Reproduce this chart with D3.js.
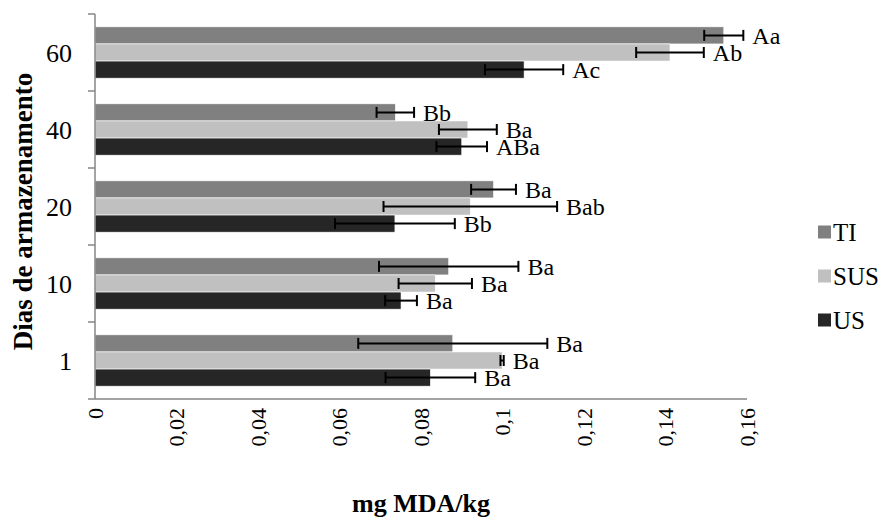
<!DOCTYPE html>
<html>
<head>
<meta charset="utf-8">
<script src="https://cdn.jsdelivr.net/npm/d3@7"></script>
<style>
  body { margin: 0; background: #fff; }
</style>
</head>
<body>
<div id="chart"></div>
<script>
// days of storage, top to bottom
const days = ["60", "40", "20", "10", "1"];
const series = ["TI", "SUS", "US"];
const colors = { TI: "#808080", SUS: "#c0c0c0", US: "#262626" };

// mg MDA/kg, same order as days
const tiValues  = [0.1543, 0.0737, 0.0978, 0.0868, 0.0878];
const susValues = [0.1411, 0.0915, 0.0921, 0.0835, 0.0999];
const usValues  = [0.1053, 0.0900, 0.0736, 0.0751, 0.0823];

const tiErr  = [0.0048, 0.0046, 0.0055, 0.0171, 0.0232];
const susErr = [0.0083, 0.0071, 0.0213, 0.0090, 0.0004];
const usErr  = [0.0096, 0.0062, 0.0147, 0.0039, 0.0110];

const tiLabels  = ["Aa", "Bb", "Ba", "Ba", "Ba"];
const susLabels = ["Ab", "Ba", "Bab", "Ba", "Ba"];
const usLabels  = ["Ac", "ABa", "Bb", "Ba", "Ba"];

const xTicks = [0, 0.02, 0.04, 0.06, 0.08, 0.1, 0.12, 0.14, 0.16];

const seriesData = {
    TI: { values: tiValues, err: tiErr, labels: tiLabels },
    SUS: { values: susValues, err: susErr, labels: susLabels },
    US: { values: usValues, err: usErr, labels: usLabels }
};

const FONT = "Liberation Serif";

const width = 886, height = 523;
const margin = { top: 14, right: 139, bottom: 124, left: 95 };
const innerW = width - margin.left - margin.right;
const innerH = height - margin.top - margin.bottom;

const svg = d3.select("#chart").append("svg")
    .attr("width", width)
    .attr("height", height)
    .attr("font-family", FONT);

const g = svg.append("g")
    .attr("transform", `translate(${margin.left},${margin.top})`);

const x = d3.scaleLinear().domain([0, 0.16]).range([0, innerW]);
const y = d3.scaleBand().domain(days).range([0, innerH])
    .paddingInner(1 / 3).paddingOuter(1 / 6);
const ySub = d3.scaleBand().domain(series).range([0, y.bandwidth()]);

// flatten into one row per bar
const rows = [];
days.forEach((d, i) => {
    series.forEach(s => {
        rows.push({
            day: d, series: s,
            value: seriesData[s].values[i],
            err: seriesData[s].err[i],
            label: seriesData[s].labels[i]
        });
    });
});

//Bars
g.selectAll(".bar")
    .data(rows)
    .join("rect")
    .attr("class", "bar")
    .attr("x", 0)
    .attr("y", d => y(d.day) + ySub(d.series))
    .attr("width", d => x(d.value))
    .attr("height", ySub.bandwidth())
    .attr("fill", d => colors[d.series])
    .attr("stroke", "#fff")
    .attr("stroke-width", 0.6);

//Error bars
const capH = 11;
const eb = g.selectAll(".err")
    .data(rows)
    .join("g")
    .attr("class", "err")
    .attr("transform", d => `translate(0,${y(d.day) + ySub(d.series) + ySub.bandwidth() / 2})`)
    .attr("stroke", "#000")
    .attr("stroke-width", 2);

eb.append("line")
    .attr("x1", d => x(d.value - d.err))
    .attr("x2", d => x(d.value + d.err));
eb.append("line")
    .attr("x1", d => x(d.value - d.err)).attr("x2", d => x(d.value - d.err))
    .attr("y1", -capH / 2).attr("y2", capH / 2);
eb.append("line")
    .attr("x1", d => x(d.value + d.err)).attr("x2", d => x(d.value + d.err))
    .attr("y1", -capH / 2).attr("y2", capH / 2);

//Letter labels
g.selectAll(".lbl")
    .data(rows)
    .join("text")
    .attr("class", "lbl")
    .attr("x", d => x(d.value + d.err) + 9)
    .attr("y", d => y(d.day) + ySub(d.series) + ySub.bandwidth() / 2)
    .attr("dy", "0.36em")
    .attr("font-size", 24)
    .text(d => d.label);

//Axes
const axisColor = "#868686";

// y axis line with ticks at category boundaries
g.append("line")
    .attr("x1", 0).attr("x2", 0)
    .attr("y1", 0).attr("y2", innerH)
    .attr("stroke", axisColor).attr("stroke-width", 1.5);

const boundaryY = d3.range(days.length + 1).map(i => i * y.step());
g.selectAll(".ytick")
    .data(boundaryY)
    .join("line")
    .attr("class", "ytick")
    .attr("x1", -7).attr("x2", 0)
    .attr("y1", d => d).attr("y2", d => d)
    .attr("stroke", axisColor).attr("stroke-width", 1.5);

g.selectAll(".ylab")
    .data(days)
    .join("text")
    .attr("class", "ylab")
    .attr("x", -23)
    .attr("y", d => y(d) + y.bandwidth() / 2)
    .attr("dy", "0.36em")
    .attr("text-anchor", "end")
    .attr("font-size", 26)
    .text(d => d);

// x axis line
g.append("line")
    .attr("x1", 0).attr("x2", innerW)
    .attr("y1", innerH).attr("y2", innerH)
    .attr("stroke", axisColor).attr("stroke-width", 1.5);

const fmt = d => String(d).replace(".", ",");
g.selectAll(".xlab")
    .data(xTicks)
    .join("text")
    .attr("class", "xlab")
    .attr("transform", d => `translate(${x(d)},${innerH + 9}) rotate(-90)`)
    .attr("dy", "0.35em")
    .attr("text-anchor", "end")
    .attr("font-size", 22)
    .text(fmt);

//Axis titles
svg.append("text")
    .attr("x", margin.left + innerW / 2)
    .attr("y", 512)
    .attr("text-anchor", "middle")
    .attr("font-size", 26)
    .attr("font-weight", "bold")
    .text("mg MDA/kg");

svg.append("text")
    .attr("transform", `translate(32,${margin.top + innerH / 2 + 5}) rotate(-90)`)
    .attr("text-anchor", "middle")
    .attr("font-size", 27)
    .attr("font-weight", "bold")
    .text("Dias de armazenamento");

//Legend
const legend = svg.append("g")
    .attr("transform", "translate(818,232)");
const li = legend.selectAll(".leg")
    .data(series)
    .join("g")
    .attr("class", "leg")
    .attr("transform", (d, i) => `translate(0,${i * 44})`);
li.append("rect")
    .attr("x", 0).attr("y", -6.5)
    .attr("width", 13).attr("height", 13)
    .attr("fill", d => colors[d]);
li.append("text")
    .attr("x", 15)
    .attr("dy", "0.36em")
    .attr("font-size", 25)
    .text(d => d);
</script>
</body>
</html>
